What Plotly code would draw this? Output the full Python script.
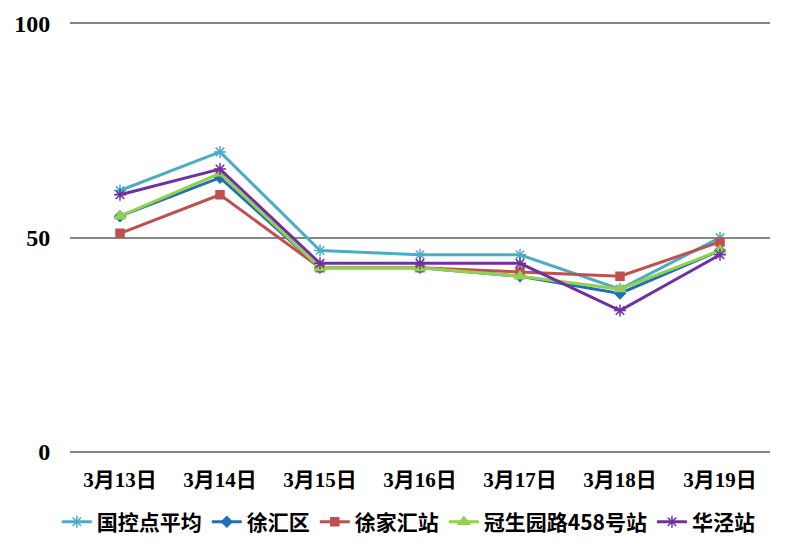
import plotly.graph_objects as go

categories = ["3月13日", "3月14日", "3月15日", "3月16日", "3月17日", "3月18日", "3月19日"]
guokong = [61, 70, 47, 46, 46, 38, 50]
xuhui = [55, 64, 43, 43, 41, 37, 47]
xujiahui = [51, 60, 43, 43, 42, 41, 49]
guanshengyuan = [55, 65, 43, 43, 41, 38, 47]
huajing = [60, 66, 44, 44, 44, 33, 46]
y_ticks = [0, 50, 100]

series = [
    ("国控点平均", guokong, "#4BACC6", "asterisk-open", 10),
    ("徐汇区", xuhui, "#1F6FB4", "diamond", 8),
    ("徐家汇站", xujiahui, "#C0504D", "square", 8),
    ("冠生园路458号站", guanshengyuan, "#92D050", "triangle-up", 10),
    ("华泾站", huajing, "#7030A0", "asterisk-open", 10),
]

fig = go.Figure()
for name, vals, color, sym, size in series:
    fig.add_trace(go.Scatter(
        x=categories, y=vals, name=name, mode="lines+markers",
        line=dict(color=color, width=3),
        marker=dict(symbol=sym, size=size, color=color,
                    line=dict(color=color, width=1.5)),
    ))

font_family = "Liberation Serif, Noto Sans CJK SC, serif"
fig.update_layout(
    width=770, height=536,
    margin=dict(l=62, r=8, t=14, b=92, autoexpand=False),
    plot_bgcolor="white", paper_bgcolor="white",
    font=dict(family=font_family, color="black"),
    showlegend=True,
    legend=dict(orientation="h", x=0.484, xanchor="center", y=-0.163, yanchor="middle",
                font=dict(size=21, family="Noto Sans CJK SC", weight="bold"),
                tracegroupgap=0),
    xaxis=dict(type="category", showgrid=False, showline=False, automargin=False,
               ticks="outside", ticklen=9, tickcolor="rgba(0,0,0,0)",
               tickfont=dict(size=21, family=font_family, weight="bold"),
               range=[-0.5, 6.5]),
    yaxis=dict(range=[0, 100.3], tickvals=y_ticks, showgrid=True, gridcolor="#868686",
               gridwidth=1.5, zeroline=True, zerolinecolor="#868686", zerolinewidth=1.5,
               showline=False, automargin=False, ticks="outside", ticklen=14,
               tickcolor="rgba(0,0,0,0)",
               tickfont=dict(size=24, family=font_family, weight="bold")),
)
fig.write_html("out.html")
